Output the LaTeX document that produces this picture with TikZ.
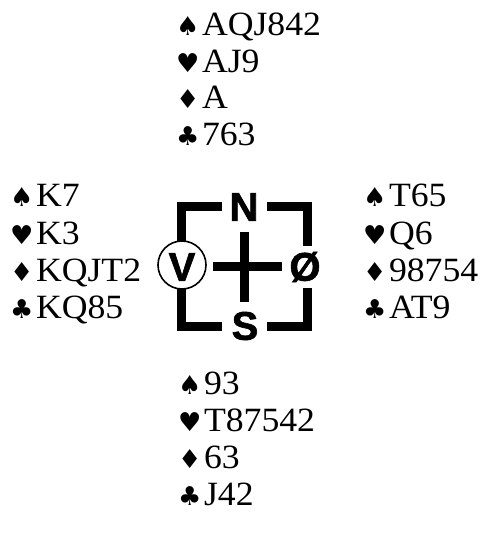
\documentclass[tikz,border=0pt]{standalone}
\usepackage{fontspec}
\setmainfont{Liberation Serif}[FakeStretch=1.05]
\newfontfamily\suitf{DejaVu Sans}
\newfontfamily\embf{Liberation Sans}[FakeBold=1.5]
\newcommand\suitsym[1]{{\suitf\fontsize{26}{26}\selectfont #1}\kern2.5pt}
\newcommand\SP{\suitsym{♠}}
\newcommand\HE{\suitsym{♥}}
\newcommand\DI{\suitsym{♦}}
\newcommand\CL{\suitsym{♣}}
\tikzset{
  handline/.style={anchor=base west, inner sep=0pt, font=\fontsize{34}{37}\selectfont},
  frameline/.style={line width=9pt, line join=miter, line cap=butt},
  dirletter/.style={inner sep=0pt, font=\embf\bfseries\fontsize{40}{40}\selectfont},
}
\begin{document}
\begin{tikzpicture}[x=1pt,y=-1pt]
\useasboundingbox (0,0) rectangle (484,534);
% North
\node[handline] (n1) at (176,36) {\SP AQJ842};
\node[handline] (n2) at (176,72.5) {\HE AJ9};
\node[handline] (n3) at (176,109) {\DI A};
\node[handline] (n4) at (176,146) {\CL 763};
% West
\node[handline] (w1) at (10,207) {\SP K7};
\node[handline] (w2) at (10,244) {\HE K3};
\node[handline] (w3) at (10,281) {\DI KQJT2};
\node[handline] (w4) at (10,318) {\CL KQ85};
% East
\node[handline] (e1) at (363,207) {\SP T65};
\node[handline] (e2) at (363,244) {\HE Q6};
\node[handline] (e3) at (363,281) {\DI 98754};
\node[handline] (e4) at (363,318) {\CL AT9};
% South
\node[handline] (s1) at (178,394) {\SP 93};
\node[handline] (s2) at (178,431) {\HE T87542};
\node[handline] (s3) at (178,468) {\DI 63};
\node[handline] (s4) at (178,505) {\CL J42};
% Emblem frame
\coordinate (tlA) at (222,207);
\coordinate (tlB) at (181,243);
\coordinate (trA) at (267,207);
\coordinate (trB) at (307,246);
\coordinate (blA) at (181,288);
\coordinate (blB) at (222,326);
\coordinate (brA) at (307,288);
\coordinate (brB) at (267,326);
\draw[frameline] (tlA) -| (tlB);
\draw[frameline] (trA) -| (trB);
\draw[frameline] (blA) |- (blB);
\draw[frameline] (brA) |- (brB);
% cross
\coordinate (cxL) at (213,266);
\coordinate (cxR) at (282,266);
\coordinate (cyT) at (244,232);
\coordinate (cyB) at (244,302);
\draw[line width=9pt] (cxL) -- (cxR);
\draw[line width=9pt] (cyT) -- (cyB);
% letters
\node[dirletter] (N) at (244,207) {N};
\node[dirletter] (S) at (245,326) {S};
\node[dirletter] (O) at (305,267) {Ø};
\node[draw, circle, line width=1.6pt, fill=white, minimum size=48pt, inner sep=0pt] (Vc) at (182,265) {};
\node[dirletter] (V) at (182,267) {V};
\end{tikzpicture}
\end{document}
